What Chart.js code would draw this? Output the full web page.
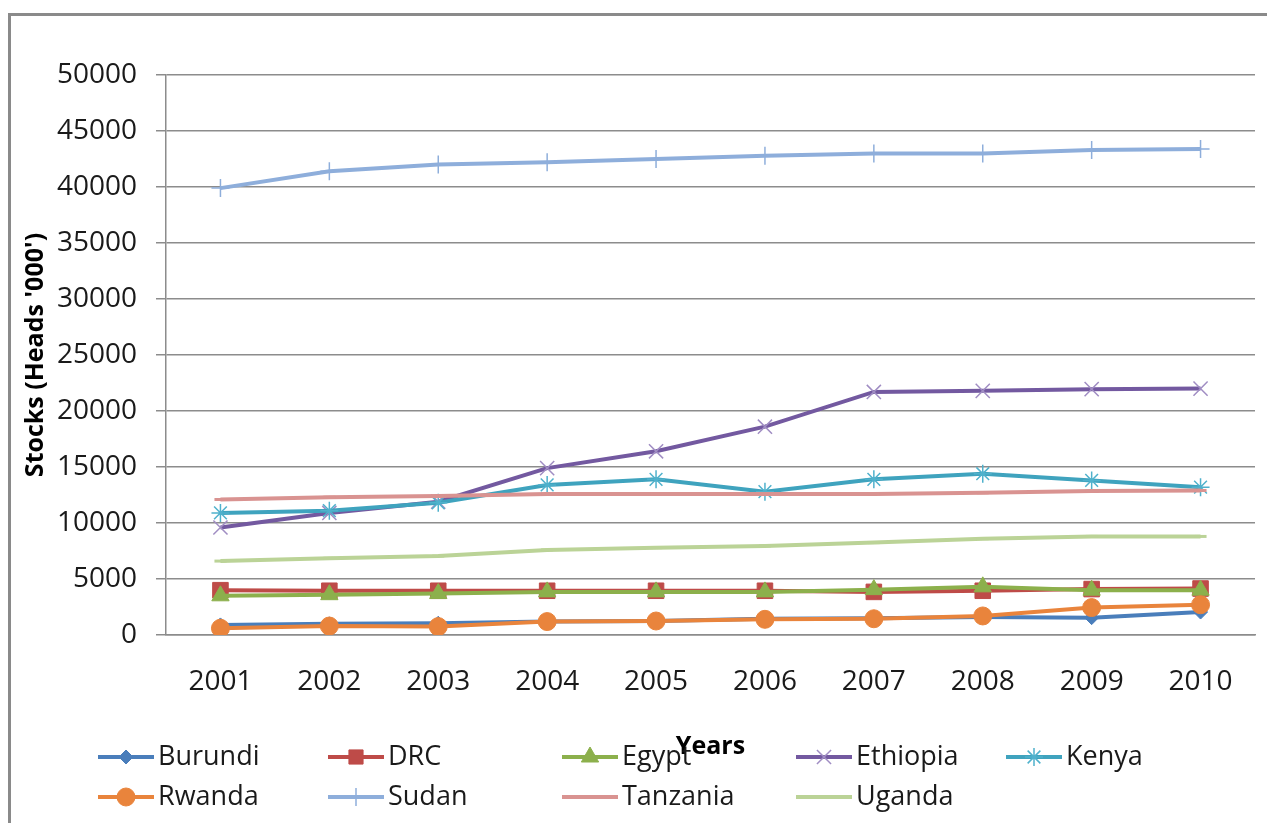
<!DOCTYPE html>
<html>
<head>
<meta charset="utf-8">
<script src="https://cdn.jsdelivr.net/npm/chart.js@4.4.0/dist/chart.umd.min.js"></script>
<style>
  html, body { margin: 0; padding: 0; background: #ffffff; overflow: hidden; }
  #wrap { position: relative; width: 1267px; height: 823px; }
</style>
</head>
<body>
<div id="wrap"><canvas id="c" width="1267" height="823"></canvas></div>
<script>
// Livestock stocks by country (thousand heads), 2001-2010
const years = ['2001', '2002', '2003', '2004', '2005', '2006', '2007', '2008', '2009', '2010'];
const yTicks = [0, 5000, 10000, 15000, 20000, 25000, 30000, 35000, 40000, 45000, 50000];

const burundi  = [900, 1000, 1050, 1200, 1250, 1450, 1500, 1600, 1550, 2050];
const drc      = [4000, 3950, 3950, 3950, 3950, 3950, 3850, 3950, 4100, 4150];
const egypt    = [3500, 3600, 3700, 3850, 3850, 3850, 4050, 4300, 4000, 4000];
const ethiopia = [9600, 10900, 11900, 14900, 16400, 18600, 21700, 21800, 21950, 22000];
const kenya    = [10900, 11100, 11800, 13400, 13900, 12800, 13900, 14400, 13800, 13200];
const rwanda   = [600, 800, 750, 1200, 1250, 1400, 1450, 1700, 2450, 2700];
const sudan    = [39900, 41400, 42000, 42200, 42500, 42800, 43000, 43000, 43300, 43400];
const tanzania = [12100, 12300, 12400, 12600, 12600, 12600, 12600, 12700, 12850, 12900];
const uganda   = [6600, 6850, 7050, 7600, 7800, 7950, 8250, 8600, 8800, 8800];

const seriesNames = ['Burundi', 'DRC', 'Egypt', 'Ethiopia', 'Kenya', 'Rwanda', 'Sudan', 'Tanzania', 'Uganda'];
const seriesData  = [burundi, drc, egypt, ethiopia, kenya, rwanda, sudan, tanzania, uganda];

// line colour, marker shape, marker size, marker outline colour, marker outline width, filled
const styles = [
  { color: '#4A7EBB', shape: 'rectRot',  r: 7,  mColor: '#4A7EBB', mWidth: 1,   fill: true },
  { color: '#BE4B48', shape: 'rect',     r: 11, mColor: '#BE4B48', mWidth: 1,   fill: true },
  { color: '#8CB04C', shape: 'triangle', r: 10, mColor: '#8CB04C', mWidth: 1,   fill: true },
  { color: '#7359A0', shape: 'crossRot', r: 10, mColor: '#A08DC3', mWidth: 1.5, fill: false },
  { color: '#3FA3BE', shape: 'star',     r: 9,  mColor: '#4FB1CC', mWidth: 1.5, fill: false },
  { color: '#E9843C', shape: 'circle',   r: 9,  mColor: '#E9843C', mWidth: 1,   fill: true },
  { color: '#8EAEDB', shape: 'cross',    r: 9,  mColor: '#8EAEDB', mWidth: 1.5, fill: false },
  { color: '#D99391', shape: 'line',     r: 6,  mColor: '#D99391', mWidth: 3,   fill: false },
  { color: '#BBD397', shape: 'line',     r: 6,  mColor: '#BBD397', mWidth: 3,   fill: false }
];

const datasets = seriesNames.map((name, i) => {
  const s = styles[i];
  return {
    label: name,
    data: seriesData[i],
    borderColor: s.color,
    backgroundColor: s.fill ? s.mColor : 'rgba(0,0,0,0)',
    borderWidth: 4,
    tension: 0,
    pointStyle: s.shape,
    pointRadius: s.r,
    pointHoverRadius: s.r,
    pointBackgroundColor: s.fill ? s.mColor : 'rgba(0,0,0,0)',
    pointBorderColor: s.mColor,
    pointBorderWidth: s.mWidth,
    order: seriesNames.length - i   // later series are painted on top
  };
});

const GRID = '#8C8C8C';
const FONT = "'Open Sans', 'DejaVu Sans', sans-serif";

// Outer chart frame (left and top edges)
const framePlugin = {
  id: 'frame',
  beforeDraw(chart) {
    const ctx = chart.ctx;
    ctx.save();
    ctx.strokeStyle = '#8A8A8A';
    ctx.lineWidth = 3;
    ctx.beginPath();
    ctx.moveTo(9.5, 900);
    ctx.lineTo(9.5, 14.5);
    ctx.lineTo(1300, 14.5);
    ctx.stroke();
    ctx.restore();
  }
};

// Two-row legend laid out in fixed columns
const legendPlugin = {
  id: 'gridLegend',
  afterDraw(chart) {
    const ctx = chart.ctx;
    const colX = [98, 328, 562, 796, 1006];
    const rowY = [757, 797];
    const sampleLen = 56;
    ctx.save();
    chart.data.datasets.forEach((ds, i) => {
      const x = colX[i % 5];
      const y = rowY[Math.floor(i / 5)];
      ctx.strokeStyle = ds.borderColor;
      ctx.lineWidth = 4;
      ctx.lineCap = 'butt';
      ctx.beginPath();
      ctx.moveTo(x, y);
      ctx.lineTo(x + sampleLen, y);
      ctx.stroke();
      ctx.fillStyle = ds.pointBackgroundColor;
      ctx.strokeStyle = ds.pointBorderColor;
      ctx.lineWidth = ds.pointBorderWidth;
      Chart.helpers.drawPoint(ctx, {
        pointStyle: ds.pointStyle,
        radius: Math.min(ds.pointRadius, 10),
        rotation: 0,
        borderWidth: ds.pointBorderWidth
      }, x + sampleLen / 2, y);
      ctx.fillStyle = '#1a1a1a';
      ctx.font = '27px ' + FONT;
      ctx.textAlign = 'left';
      ctx.textBaseline = 'middle';
      ctx.fillText(ds.label, x + sampleLen + 4, y);
    });
    ctx.restore();
  }
};

new Chart(document.getElementById('c'), {
  type: 'line',
  data: { labels: years, datasets },
  plugins: [framePlugin, legendPlugin],
  options: {
    responsive: false,
    animation: false,
    devicePixelRatio: 1,
    layout: { padding: { top: 75, right: 12, bottom: 0, left: 0 } },
    plugins: {
      legend: { display: false },
      tooltip: { enabled: false }
    },
    scales: {
      x: {
        type: 'category',
        offset: true,
        grid: { display: false, drawTicks: false },
        border: { display: true, color: GRID, width: 1.5 },
        ticks: { color: '#1a1a1a', font: { family: FONT, size: 28 }, padding: 30, maxRotation: 0 },
        title: {
          display: true,
          text: 'Years',
          color: '#000',
          font: { family: FONT, size: 25, weight: 'bold' },
          padding: { top: 0, bottom: 61 }
        },
        afterFit(scale) { scale.height = 188; }
      },
      y: {
        min: 0,
        max: 50000,
        afterBuildTicks(scale) { scale.ticks = yTicks.map(v => ({ value: v })); },
        grid: { color: GRID, lineWidth: 1.5, tickLength: 10, drawTicks: true },
        border: { display: true, color: GRID, width: 1.5 },
        ticks: {
          color: '#1a1a1a',
          font: { family: FONT, size: 28 },
          padding: 19,
          callback: v => String(v)
        },
        title: {
          display: true,
          text: "Stocks (Heads '000')",
          color: '#000',
          font: { family: FONT, size: 25, weight: 'bold' },
          padding: { top: 21, bottom: 0 }
        },
        afterFit(scale) { scale.width = 166; }
      }
    }
  }
});
</script>
</body>
</html>
